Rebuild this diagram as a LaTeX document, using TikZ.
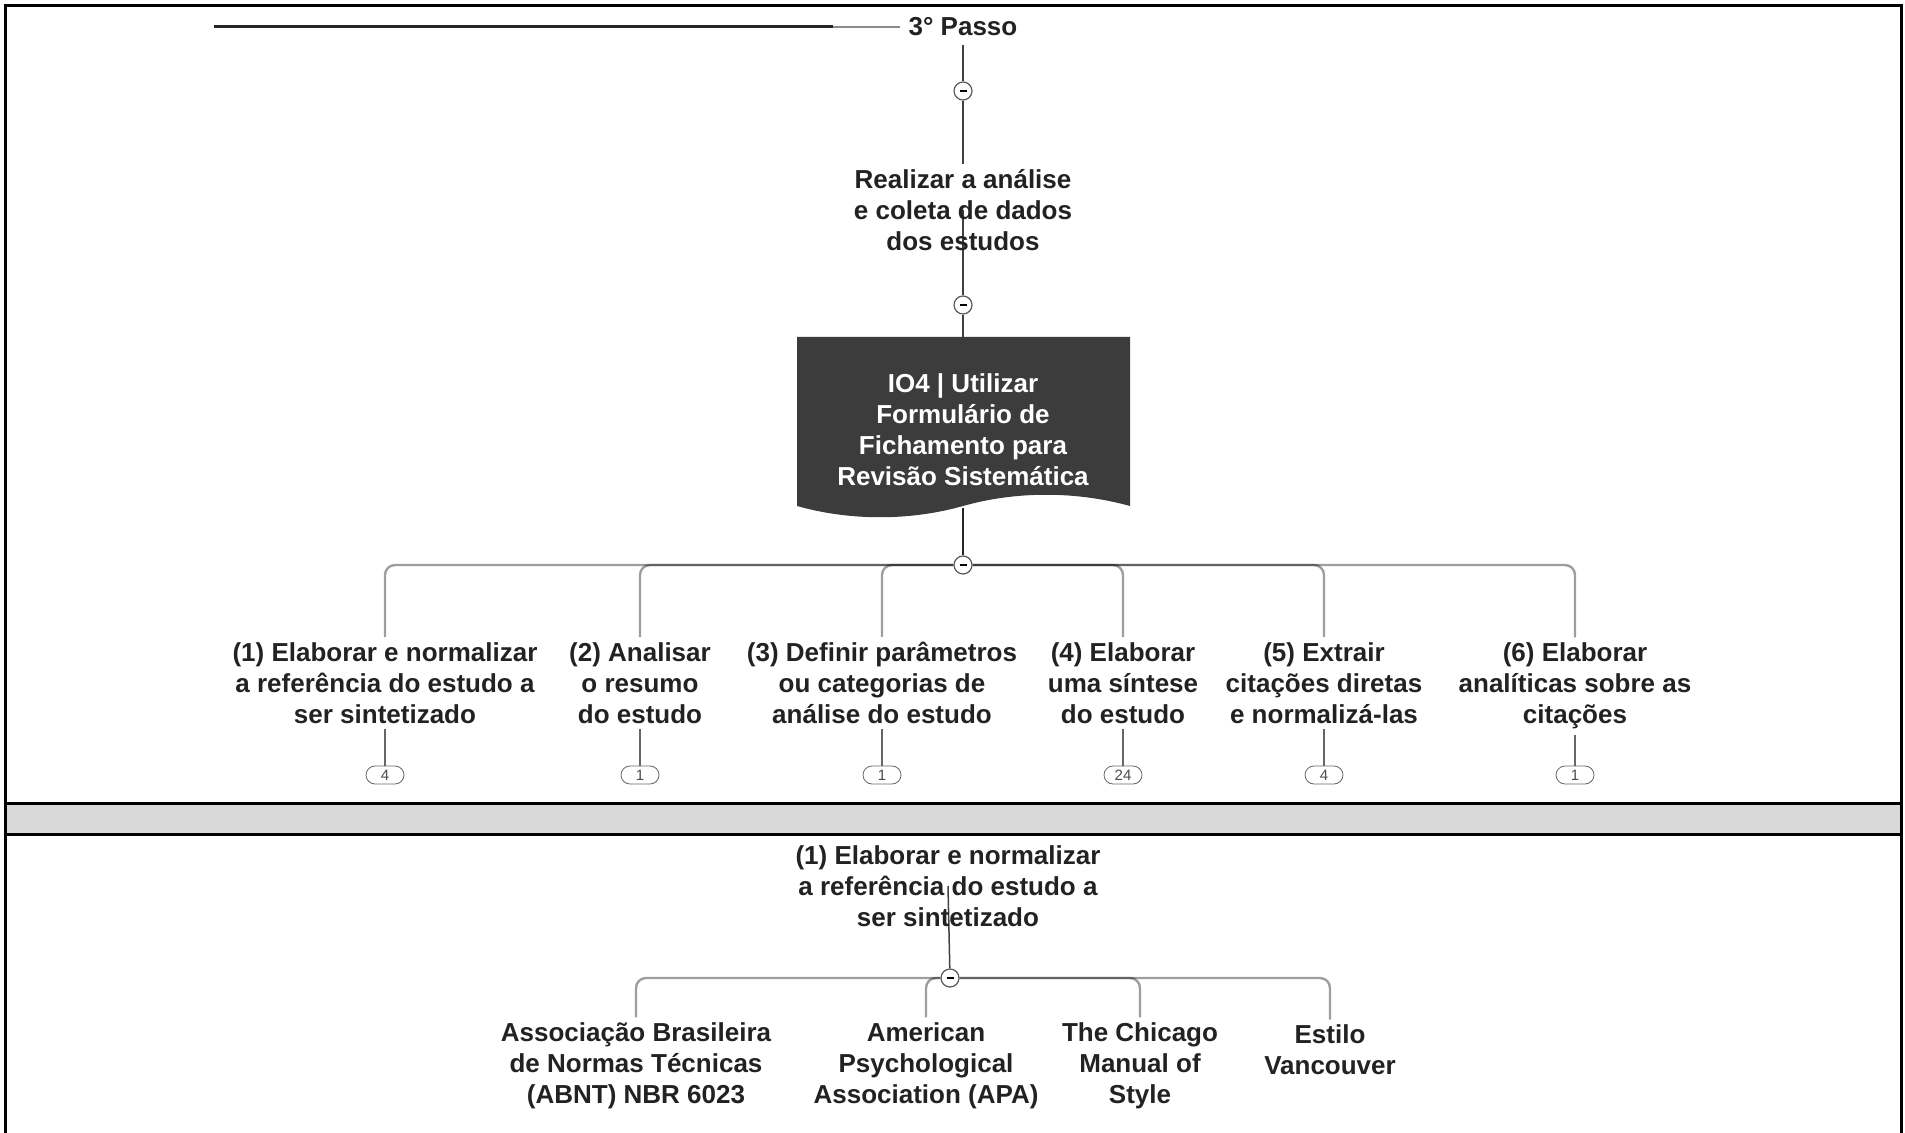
\documentclass[tikz,border=0pt]{standalone}
\usepackage{fontspec}
\setmainfont{Liberation Sans}
\usetikzlibrary{backgrounds}
\definecolor{boxfill}{HTML}{3C3C3C}
\definecolor{txt}{HTML}{222222}
\definecolor{band}{HTML}{D9D9D9}
\tikzset{
  lbl/.style={font=\fontsize{13pt}{15.5pt}\selectfont\bfseries, text=txt, align=center, inner sep=2.5pt},
  tog/.style={circle, draw=black!65, fill=white, line width=0.6pt, minimum size=9pt, inner sep=0pt},
  badge/.style={draw=black!60, fill=white, rounded corners=4.5pt, minimum width=19pt, minimum height=9pt, inner sep=0pt, font=\fontsize{7.5pt}{7.5pt}\selectfont, text=black!70},
  axis/.style={draw=black!75, line width=0.75pt},
  branch/.style={draw=black, draw opacity=0.38, line width=1.2pt, rounded corners=5pt},
  drop/.style={draw=black!60, line width=0.6pt},
  frame/.style={draw=black, line width=1.5pt}
}
\newcommand{\minusmark}{\rule{3.5pt}{0.7pt}}
\begin{document}
\begin{tikzpicture}[x=0.5pt,y=-0.5pt]
\useasboundingbox (0,0) rectangle (1905,1133);
% frame and band
\fill[band] (5,803) rectangle (1901,834);
\draw[frame] (5,803) -- (1901,803) (5,834) -- (1901,834);
\draw[frame] (5,1145) -- (5,6) -- (1901,6) -- (1901,1145);

% ---------- upper section ----------
\node[lbl, inner sep=4pt] (passo) at (963,27) {3° Passo};
\coordinate (lstart) at (214,27);
\coordinate (lmid) at (833,27);
\node[tog] (c1) at (963,91) {\minusmark};
\node[lbl] (realizar) at (963,210) {Realizar a análise\\e coleta de dados\\dos estudos};
\node[tog] (c2) at (963,305) {\minusmark};
\fill[boxfill] (797,337) -- (1130,337) -- (1130,506)
  .. controls (1076,491) and (1016,491) .. (963,506)
  .. controls (910,521) and (850,521) .. (797,506) -- cycle;
\coordinate (boxtop) at (963,337);
\coordinate (boxbot) at (963,508);
\node[lbl, text=white] (io4) at (963,430) {IO4 | Utilizar\\Formulário de\\Fichamento para\\Revisão Sistemática};
\node[tog] (c3) at (963,565) {\minusmark};

\node[lbl] (k1) at (385,683) {(1) Elaborar e normalizar\\a referência do estudo a\\ser sintetizado};
\node[lbl] (k2) at (640,683) {(2) Analisar\\o resumo\\do estudo};
\node[lbl] (k3) at (882,683) {(3) Definir parâmetros\\ou categorias de\\análise do estudo};
\node[lbl] (k4) at (1123,683) {(4) Elaborar\\uma síntese\\do estudo};
\node[lbl] (k5) at (1324,683) {(5) Extrair\\citações diretas\\e normalizá-las};
\node[lbl] (k6) at (1575,686) {(6) Elaborar\\analíticas sobre as\\citações};

\node[badge] (b1) at (385,775) {4};
\node[badge] (b2) at (640,775) {1};
\node[badge] (b3) at (882,775) {1};
\node[badge] (b4) at (1123,775) {24};
\node[badge] (b5) at (1324,775) {4};
\node[badge] (b6) at (1575,775) {1};

% ---------- lower section ----------
\node[lbl] (sub) at (948,886) {(1) Elaborar e normalizar\\a referência do estudo a\\ser sintetizado};
\node[tog] (c4) at (950,978) {\minusmark};
\node[lbl] (s1) at (636,1066) {Associação Brasileira\\de Normas Técnicas\\(ABNT) NBR 6023};
\node[lbl] (s2) at (926,1066) {American\\Psychological\\Association (APA)};
\node[lbl] (s3) at (1140,1066) {The Chicago\\Manual of\\Style};
\node[lbl] (s4) at (1330,1050) {Estilo\\Vancouver};

\begin{scope}[on background layer]
  \draw[draw=black!85, line width=1.5pt] (lstart) -- (lmid);
  \draw[draw=black!45, line width=0.6pt] (lmid) -- (passo.west);
  \draw[axis] (passo.south) -- (c1);
  \draw[axis] (c1) -- (realizar.north);
  \draw[axis] (realizar.center) -- (c2);
  \draw[axis] (c2) -- (boxtop);
  \draw[draw=black!85, line width=1.3pt] (boxbot) -- (c3);
  \foreach \k in {k1,k2,k3,k4,k5,k6} {
    \draw[branch] (c3) -| (\k.north);
  }
  \foreach \k/\b in {k1/b1,k2/b2,k3/b3,k4/b4,k5/b5,k6/b6} {
    \draw[drop] (\k.south) -- (\b.north);
  }
  \draw[axis] (sub.center) -- (c4);
  \foreach \k in {s1,s2,s3,s4} {
    \draw[branch] (c4) -| (\k.north);
  }
\end{scope}
\end{tikzpicture}
\end{document}
